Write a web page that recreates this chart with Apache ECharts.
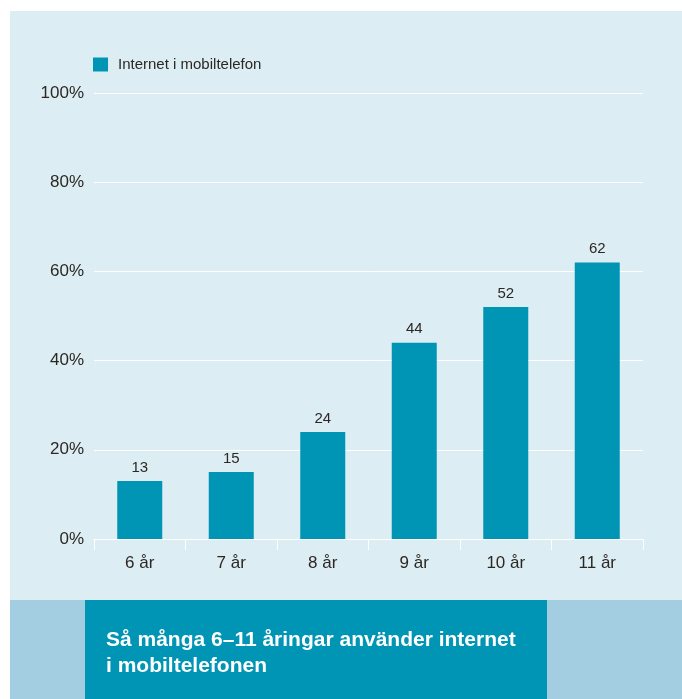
<!DOCTYPE html>
<html>
<head>
<meta charset="utf-8">
<script src="https://cdn.jsdelivr.net/npm/echarts@6/dist/echarts.min.js"></script>
<style>
html,body{margin:0;padding:0;background:#fff;}
#c{width:682px;height:699px;}
</style>
</head>
<body>
<div id="c"></div>
<script>
const categories = ['6 år', '7 år', '8 år', '9 år', '10 år', '11 år'];
const values = [13, 15, 24, 44, 52, 62];
const seriesName = 'Internet i mobiltelefon';
const titleText = 'Så många 6–11 åringar använder internet\ni mobiltelefonen';

const chart = echarts.init(document.getElementById('c'));
const font = '"Liberation Sans", Arial, sans-serif';
chart.setOption({
  animation: false,
  textStyle: { fontFamily: font },
  graphic: [
    { type: 'rect', z: -10, shape: { x: 10, y: 11, width: 672, height: 589 }, style: { fill: '#ddedf4' } },
    { type: 'rect', z: -10, shape: { x: 10, y: 600, width: 672, height: 99 }, style: { fill: '#a3cde0' } },
    { type: 'rect', z: -9, shape: { x: 85, y: 600, width: 462, height: 99 }, style: { fill: '#0094b5' } },
    { type: 'text', z: -8, left: 106, top: 627, style: { text: titleText, fill: '#fff', font: 'bold 21px ' + font, lineHeight: 26 } }
  ],
  legend: {
    left: 88, top: 52, itemWidth: 15, itemHeight: 14, itemGap: 10,
    icon: 'rect',
    textStyle: { fontSize: 15, color: '#2b2823', fontFamily: font, padding: [0, 0, 0, 5] },
    data: [seriesName]
  },
  grid: { left: 94, right: 39, top: 93, bottom: 160, containLabel: false },
  xAxis: {
    type: 'category', data: categories,
    axisLine: { lineStyle: { color: '#ffffff', width: 1 } },
    axisTick: { show: true, length: 11, lineStyle: { color: '#ffffff' } },
    axisLabel: { fontSize: 17, color: '#2b2823', margin: 16, fontFamily: font }
  },
  yAxis: {
    type: 'value', min: 0, max: 100, interval: 20,
    axisLine: { show: false }, axisTick: { show: false },
    axisLabel: { formatter: '{value}%', fontSize: 17, color: '#2b2823', margin: 10, fontFamily: font },
    splitLine: { lineStyle: { color: '#ffffff', width: 1 } }
  },
  series: [{
    name: seriesName, type: 'bar', data: values, barWidth: 45,
    itemStyle: { color: '#0094b5' },
    label: { show: true, position: 'top', distance: 6, fontSize: 15, color: '#2b2823', fontFamily: font }
  }]
});
</script>
</body>
</html>
